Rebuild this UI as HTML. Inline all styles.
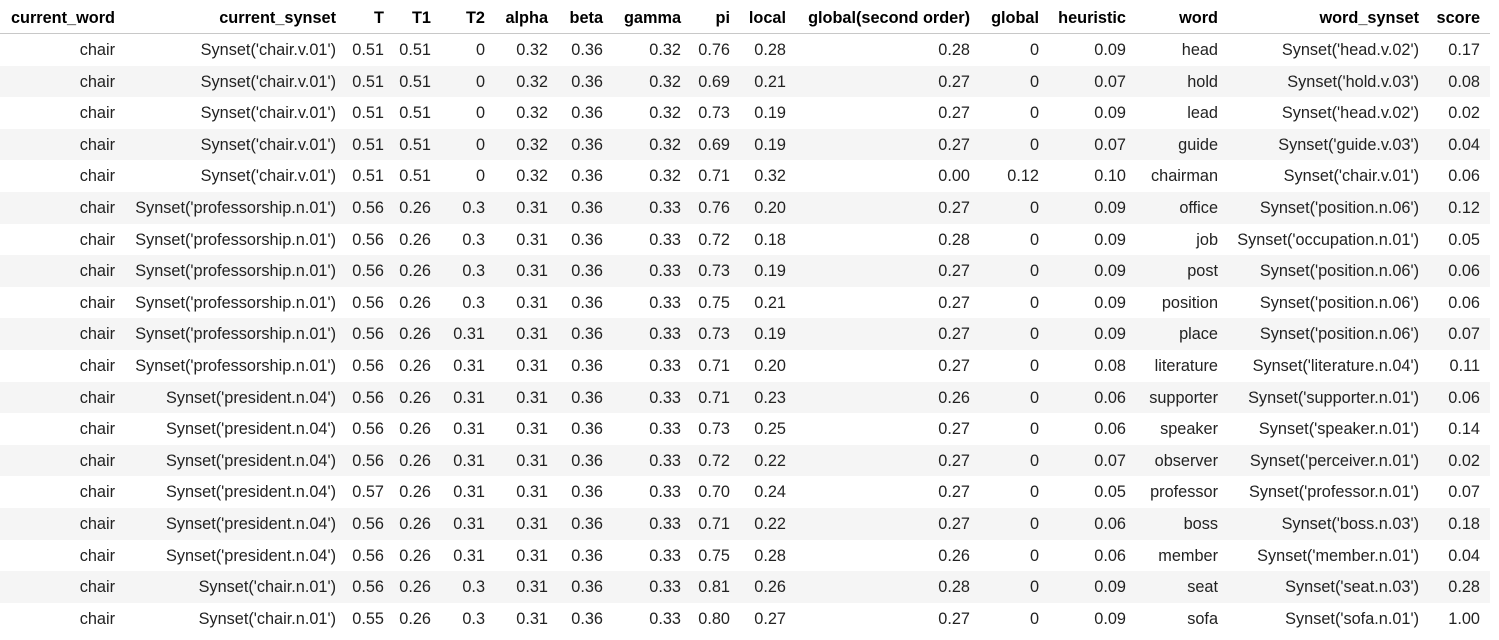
<!DOCTYPE html>
<html><head><meta charset="utf-8"><style>
body{margin:0;width:1499px;height:640px;background:#fff;overflow:hidden;font-family:"Liberation Sans",Arial,sans-serif;font-size:16.3px;color:#222;}
#tbl{position:relative;width:1499px;height:640px;}
.row{position:absolute;left:0;width:1490px;height:31.6px;}
.hdr{position:absolute;left:0;top:0;width:1490px;height:33px;border-bottom:1px solid #c8c8c8;}
.c{position:absolute;white-space:nowrap;text-align:right;}
.h{font-weight:bold;color:#000;}
</style></head><body>
<div id="tbl"></div>
<script>
const headers=["current_word","current_synset","T","T1","T2","alpha","beta","gamma","pi","local","global(second order)","global","heuristic","word","word_synset","score"];
const rightEdges=[115,336,384,431,485,548,603,681,730,786,970,1039,1126,1218,1419,1480];
const rows=[
["chair","Synset('chair.v.01')","0.51","0.51","0","0.32","0.36","0.32","0.76","0.28","0.28","0","0.09","head","Synset('head.v.02')","0.17"],
["chair","Synset('chair.v.01')","0.51","0.51","0","0.32","0.36","0.32","0.69","0.21","0.27","0","0.07","hold","Synset('hold.v.03')","0.08"],
["chair","Synset('chair.v.01')","0.51","0.51","0","0.32","0.36","0.32","0.73","0.19","0.27","0","0.09","lead","Synset('head.v.02')","0.02"],
["chair","Synset('chair.v.01')","0.51","0.51","0","0.32","0.36","0.32","0.69","0.19","0.27","0","0.07","guide","Synset('guide.v.03')","0.04"],
["chair","Synset('chair.v.01')","0.51","0.51","0","0.32","0.36","0.32","0.71","0.32","0.00","0.12","0.10","chairman","Synset('chair.v.01')","0.06"],
["chair","Synset('professorship.n.01')","0.56","0.26","0.3","0.31","0.36","0.33","0.76","0.20","0.27","0","0.09","office","Synset('position.n.06')","0.12"],
["chair","Synset('professorship.n.01')","0.56","0.26","0.3","0.31","0.36","0.33","0.72","0.18","0.28","0","0.09","job","Synset('occupation.n.01')","0.05"],
["chair","Synset('professorship.n.01')","0.56","0.26","0.3","0.31","0.36","0.33","0.73","0.19","0.27","0","0.09","post","Synset('position.n.06')","0.06"],
["chair","Synset('professorship.n.01')","0.56","0.26","0.3","0.31","0.36","0.33","0.75","0.21","0.27","0","0.09","position","Synset('position.n.06')","0.06"],
["chair","Synset('professorship.n.01')","0.56","0.26","0.31","0.31","0.36","0.33","0.73","0.19","0.27","0","0.09","place","Synset('position.n.06')","0.07"],
["chair","Synset('professorship.n.01')","0.56","0.26","0.31","0.31","0.36","0.33","0.71","0.20","0.27","0","0.08","literature","Synset('literature.n.04')","0.11"],
["chair","Synset('president.n.04')","0.56","0.26","0.31","0.31","0.36","0.33","0.71","0.23","0.26","0","0.06","supporter","Synset('supporter.n.01')","0.06"],
["chair","Synset('president.n.04')","0.56","0.26","0.31","0.31","0.36","0.33","0.73","0.25","0.27","0","0.06","speaker","Synset('speaker.n.01')","0.14"],
["chair","Synset('president.n.04')","0.56","0.26","0.31","0.31","0.36","0.33","0.72","0.22","0.27","0","0.07","observer","Synset('perceiver.n.01')","0.02"],
["chair","Synset('president.n.04')","0.57","0.26","0.31","0.31","0.36","0.33","0.70","0.24","0.27","0","0.05","professor","Synset('professor.n.01')","0.07"],
["chair","Synset('president.n.04')","0.56","0.26","0.31","0.31","0.36","0.33","0.71","0.22","0.27","0","0.06","boss","Synset('boss.n.03')","0.18"],
["chair","Synset('president.n.04')","0.56","0.26","0.31","0.31","0.36","0.33","0.75","0.28","0.26","0","0.06","member","Synset('member.n.01')","0.04"],
["chair","Synset('chair.n.01')","0.56","0.26","0.3","0.31","0.36","0.33","0.81","0.26","0.28","0","0.09","seat","Synset('seat.n.03')","0.28"],
["chair","Synset('chair.n.01')","0.55","0.26","0.3","0.31","0.36","0.33","0.80","0.27","0.27","0","0.09","sofa","Synset('sofa.n.01')","1.00"]
];
const tbl=document.getElementById('tbl');
const hdr=document.createElement('div');
hdr.className='hdr';


tbl.appendChild(hdr);
headers.forEach((h,i)=>{
  const d=document.createElement('div');
  d.className='c h';
  d.textContent=h;
  d.style.right=(1490-rightEdges[i])+'px';
  d.style.top='9px';
  
  
  hdr.appendChild(d);
});
const pitch=31.6;
rows.forEach((r,ri)=>{
  const row=document.createElement('div');
  row.className='row';
  row.style.top=(34+ri*pitch)+'px';
  if(ri%2===1)row.style.background='#f5f5f5';
  
  
  r.forEach((v,ci)=>{
    const d=document.createElement('div');
    d.className='c';
    d.textContent=v;
    d.style.right=(1490-rightEdges[ci])+'px';
    d.style.top='7px';
    
    
    row.appendChild(d);
  });
  tbl.appendChild(row);
});
</script>
</body></html>
